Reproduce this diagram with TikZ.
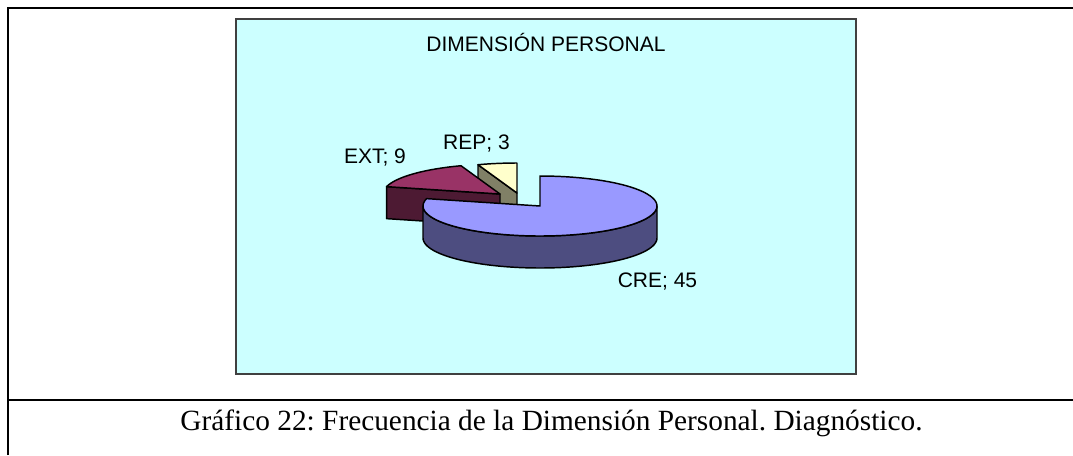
\documentclass[tikz,border=0pt]{standalone}
\usepackage{fontspec}
\setmainfont{Liberation Serif}
\newfontfamily\chartfont{Liberation Sans}
\usepackage{xcolor}
\usepackage{tikz}
\usetikzlibrary{positioning,calc}
\frenchspacing

\definecolor{chartbg}{HTML}{CCFFFF}
\definecolor{cretop}{HTML}{9999FF}
\definecolor{creside}{HTML}{4D4D80}
\definecolor{exttop}{HTML}{993366}
\definecolor{extside}{HTML}{4D1A33}
\definecolor{reptop}{HTML}{FFFFCC}
\definecolor{repside}{HTML}{808066}

\tikzset{
    slice/.style={draw=black, line width=1.1pt, line join=round},
    pielabel/.style={font=\chartfont\fontsize{15.75}{18}\selectfont, anchor=base},
}

\begin{document}
\begin{tikzpicture}[x=0.75pt,y=-0.75pt]
    \useasboundingbox (0,0) rectangle (1073,455);
    % frame of the figure
    \draw[line width=1.8pt] (8,455) -- (8,8) -- (1073,8);
    \draw[line width=1.5pt] (8,400) -- (1073,400);
    \draw[draw=black!75, line width=0.8pt, fill=chartbg] (236,19) rectangle (856,374);
    \node[pielabel] (title) at (546,51) {DIMENSIÓN PERSONAL};

    % slice centres and cut points
    \coordinate (rep) at (517,193);
    \coordinate (ext) at (500,194);
    \coordinate (cre) at (540,206);
    \coordinate (rep109) at ({517+117*cos(109.47)},{193-30*sin(109.47)});
    \coordinate (ext166) at ({500+117*cos(165.79)},{194-30*sin(165.79)});

    % REP
    \filldraw[slice, fill=repside] (rep) -- (rep109) -- ($(rep109)+(0,32)$) -- ($(rep)+(0,32)$) -- cycle;
    \filldraw[slice, fill=reptop] (rep) -- plot[domain=90:109.47, samples=20] ({517+117*cos(\x)},{193-30*sin(\x)}) -- cycle;
    % EXT
    \filldraw[slice, fill=extside] (ext) -- (ext166) -- ($(ext166)+(0,32)$) -- ($(ext)+(0,32)$) -- cycle;
    \filldraw[slice, fill=exttop] (ext) -- plot[domain=109.47:165.79, samples=30] ({500+117*cos(\x)},{194-30*sin(\x)}) -- cycle;
    % CRE
    \filldraw[slice, fill=creside] plot[domain=180:360, samples=60] ({540+117*cos(\x)},{206-30*sin(\x)})
        -- plot[domain=360:180, samples=60] ({540+117*cos(\x)},{238-30*sin(\x)}) -- cycle;
    \filldraw[slice, fill=cretop] (cre) -- plot[domain=165.79:450, samples=90] ({540+117*cos(\x)},{206-30*sin(\x)}) -- cycle;

    \node[pielabel] (replbl) at (476.5,149) {REP; 3};
    \node[pielabel] (extlbl) at (375,163) {EXT; 9};
    \node[pielabel] (crelbl) at (657.5,287) {CRE; 45};

    \node[font=\fontsize{22}{26}\selectfont, anchor=base] (caption) at (551.5,430)
        {Gráfico 22: Frecuencia de la Dimensión Personal. Diagnóstico.};
\end{tikzpicture}
\end{document}
